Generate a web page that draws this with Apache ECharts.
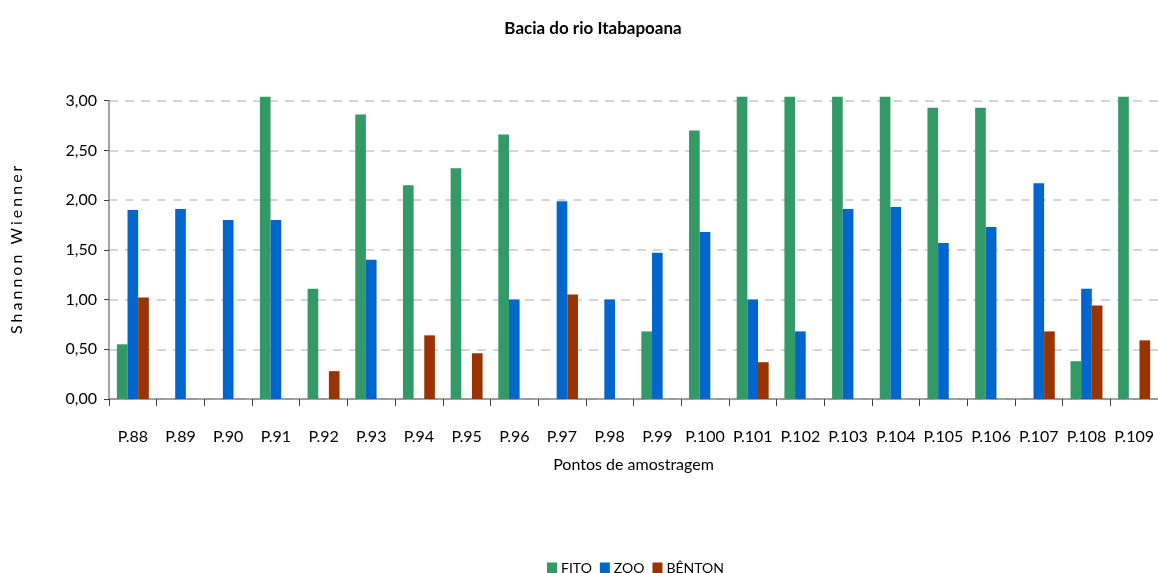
<!DOCTYPE html>
<html>
<head>
<meta charset="utf-8">
<title>Bacia do rio Itabapoana</title>
<script src="https://cdn.jsdelivr.net/npm/echarts@6/dist/echarts.min.js"></script>
<style>
  html, body { margin: 0; padding: 0; background: #ffffff; }
  #chart { width: 1158px; height: 573px; }
</style>
</head>
<body>
<div id="chart"></div>
<script>
// Sampling points along the Itabapoana basin
const categories = ['P.88', 'P.89', 'P.90', 'P.91', 'P.92', 'P.93', 'P.94', 'P.95', 'P.96', 'P.97', 'P.98',
  'P.99', 'P.100', 'P.101', 'P.102', 'P.103', 'P.104', 'P.105', 'P.106', 'P.107', 'P.108', 'P.109'];

// Shannon-Wiener diversity per community (null = not sampled)
const fito   = [0.55, null, null, 3.04, 1.11, 2.86, 2.15, 2.32, 2.66, null, null,
  0.68, 2.70, 3.04, 3.04, 3.04, 3.04, 2.93, 2.93, null, 0.38, 3.04];
const zoo    = [1.90, 1.91, 1.80, 1.80, null, 1.40, null, null, 1.00, 1.99, 1.00,
  1.47, 1.68, 1.00, 0.68, 1.91, 1.93, 1.57, 1.73, 2.17, 1.11, null];
const benton = [1.02, null, null, null, 0.28, null, 0.64, 0.46, null, 1.05, null,
  null, null, 0.37, null, null, null, null, null, 0.68, 0.94, 0.59];

const yTicks = [0, 0.5, 1, 1.5, 2, 2.5, 3];

const seriesNames = ['FITO', 'ZOO', 'BÊNTON'];
const seriesColors = ['#339966', '#0066CC', '#993300'];
const seriesData = [fito, zoo, benton];

const FONT = 'Lato, "Open Sans", sans-serif';
const yName = 'Shannon Wienner';

const chart = echarts.init(document.getElementById('chart'), null, { renderer: 'canvas' });

chart.setOption({
  backgroundColor: '#ffffff',
  animation: false,
  title: {
    text: 'Bacia do rio Itabapoana',
    left: 588,
    top: 15,
    textAlign: 'center',
    textStyle: { fontFamily: FONT, fontSize: 17, fontWeight: 'bold', color: '#000000' }
  },
  legend: {
    data: seriesNames,
    top: 556,
    left: 542,
    itemWidth: 10,
    itemHeight: 11,
    itemGap: 8,
    icon: 'rect',
    textStyle: { fontFamily: FONT, fontSize: 14, color: '#000000', padding: [0, 0, 0, -1] }
  },
  grid: {
    left: 109,
    top: 100.7,
    width: 1051,
    height: 298.3,
    containLabel: false
  },
  xAxis: {
    type: 'category',
    data: categories,
    boundaryGap: true,
    name: 'Pontos de amostragem',
    nameLocation: 'middle',
    nameGap: 58,
    nameTextStyle: { fontFamily: FONT, fontSize: 16, color: '#000000' },
    axisLine: { lineStyle: { color: '#868686', width: 1.5 } },
    axisTick: { show: true, length: 7, lineStyle: { color: '#404040' } },
    axisLabel: { fontFamily: FONT, fontSize: 16, color: '#000000', margin: 30, interval: 0 }
  },
  yAxis: {
    type: 'value',
    min: yTicks[0],
    max: yTicks[yTicks.length - 1],
    interval: 0.5,
    name: yName.split('').join('\u2009\u200A'),
    nameLocation: 'middle',
    nameGap: 84,
    nameTextStyle: { fontFamily: FONT, fontSize: 16, color: '#000000' },
    axisLine: { show: true, lineStyle: { color: '#868686', width: 1.5 } },
    axisTick: { show: true, length: 5, lineStyle: { color: '#404040' } },
    axisLabel: {
      fontFamily: FONT, fontSize: 16, color: '#000000', margin: 12,
      formatter: v => v.toFixed(2).replace('.', ',')
    },
    splitLine: { show: true, lineStyle: { color: '#c8c8c8', type: [9, 7], width: 1.5 } }
  },
  series: seriesNames.map((name, i) => ({
    name: name,
    type: 'bar',
    data: seriesData[i],
    clip: false,
    barGap: '0%',
    barCategoryGap: '33%',
    itemStyle: { color: seriesColors[i] }
  }))
});
</script>
</body>
</html>
